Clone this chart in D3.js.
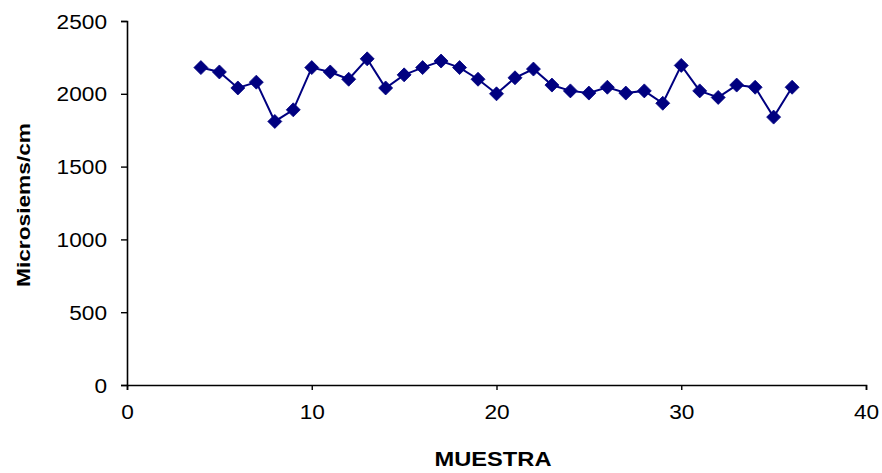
<!DOCTYPE html>
<html>
<head>
<meta charset="utf-8">
<script src="https://cdn.jsdelivr.net/npm/d3@7"></script>
<style>
  html, body { margin: 0; padding: 0; background: #fff; }
  svg { display: block; }
  text { font-family: "Liberation Sans", Arial, sans-serif; fill: #000; }
</style>
</head>
<body>
<svg id="chart" width="882" height="473"></svg>
<script>
const muestra = [4,5,6,7,8,9,10,11,12,13,14,15,16,17,18,19,20,21,22,23,24,25,26,27,28,29,30,31,32,33,34,35,36];
const conductividad = [2180,2150,2040,2080,1810,1890,2180,2150,2100,2240,2040,2130,2180,2225,2180,2100,2000,2110,2170,2060,2020,2005,2045,2005,2020,1935,2195,2020,1975,2060,2045,1840,2045];
const xTicks = [0,10,20,30,40];
const yTicks = [0,500,1000,1500,2000,2500];
const xTitle = "MUESTRA";
const yTitle = "Microsiems/cm";

const svg = d3.select("#chart");
const x = d3.scaleLinear().domain([0,40]).range([127,866]);
const y = d3.scaleLinear().domain([0,2500]).range([385,21]);
const color = "#000080";

// axes
const xAxis = svg.append("g").attr("transform", `translate(0,${y(0)})`)
  .call(d3.axisBottom(x).tickValues(xTicks).tickSize(5).tickPadding(15).tickFormat(d3.format("d")));
const yAxis = svg.append("g").attr("transform", `translate(${x(0)},0)`)
  .call(d3.axisLeft(y).tickValues(yTicks).tickSize(6).tickPadding(14).tickFormat(d3.format("d")));

[xAxis, yAxis].forEach(g => {
  g.select(".domain").attr("stroke", "#000").attr("stroke-width", 1.6);
  g.selectAll(".tick line").attr("stroke", "#000").attr("stroke-width", 1.4);
  g.selectAll(".tick text")
    .attr("font-size", 20)
    .attr("font-family", "Liberation Sans, Arial, sans-serif")
    .attr("fill", "#000")
    .each(function() {
      const t = d3.select(this);
      t.attr("textLength", t.text().length * 12.6).attr("lengthAdjust", "spacingAndGlyphs");
    });
});
xAxis.selectAll(".tick text").attr("dy", "0.71em");
yAxis.selectAll(".tick text").attr("dy", "0.35em");

// line
const pts = muestra.map((m,i) => [m, conductividad[i]]);
svg.append("path")
  .datum(pts)
  .attr("fill", "none")
  .attr("stroke", color)
  .attr("stroke-width", 2)
  .attr("d", d3.line().x(d => x(d[0])).y(d => y(d[1])));

// diamond markers
const h = 7;
svg.append("g").selectAll("path")
  .data(pts)
  .join("path")
  .attr("fill", color)
  .attr("stroke", color)
  .attr("stroke-width", 0.8)
  .attr("d", d => {
    const cx = x(d[0]), cy = y(d[1]);
    return `M${cx},${cy-h}L${cx+h},${cy}L${cx},${cy+h}L${cx-h},${cy}Z`;
  });

// titles
svg.append("text")
  .attr("x", 493).attr("y", 466)
  .attr("text-anchor", "middle")
  .attr("font-size", 21).attr("font-weight", "bold")
  .attr("textLength", 117).attr("lengthAdjust", "spacingAndGlyphs")
  .text(xTitle);

svg.append("text")
  .attr("transform", `translate(30,205) rotate(-90)`)
  .attr("text-anchor", "middle")
  .attr("font-size", 19).attr("font-weight", "bold")
  .attr("textLength", 164).attr("lengthAdjust", "spacingAndGlyphs")
  .text(yTitle);
</script>
</body>
</html>
